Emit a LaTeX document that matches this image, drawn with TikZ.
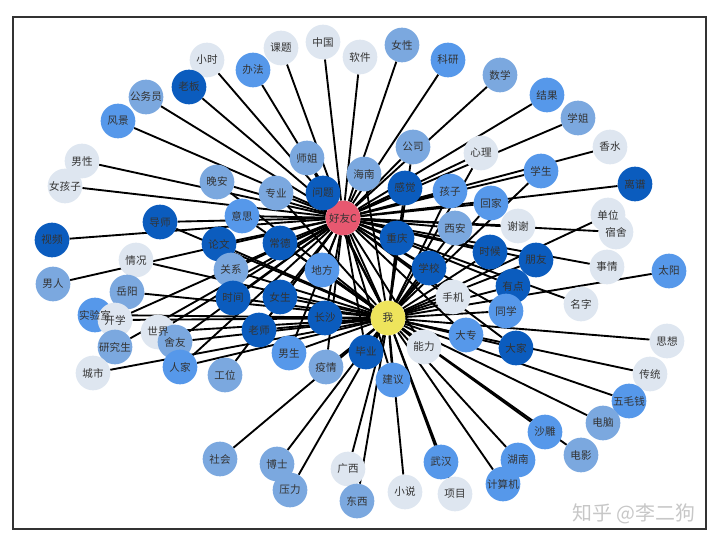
\documentclass[tikz,border=0pt]{standalone}
\usepackage{fontspec}
\setmainfont{Noto Sans CJK SC}
\usetikzlibrary{backgrounds}
\definecolor{wgray}{RGB}{222,230,240}
\definecolor{wlight}{RGB}{123,168,223}
\definecolor{wmid}{RGB}{86,152,234}
\definecolor{wdark}{RGB}{11,92,190}
\definecolor{hubred}{RGB}{232,88,112}
\definecolor{hubyel}{RGB}{238,228,92}
\tikzset{
  word/.style={circle, minimum size=1.04cm, inner sep=0pt, text=black!80,
    font=\fontsize{9}{10}\selectfont},
  g/.style={word, fill=wgray},
  l/.style={word, fill=wlight},
  m/.style={word, fill=wmid},
  d/.style={word, fill=wdark},
  wordtext/.style={inner sep=0pt, text=black!80, font=\fontsize{9}{10}\selectfont},
  edge/.style={line width=1.6pt, black}
}
\begin{document}
\begin{tikzpicture}[x=0.03cm, y=-0.03cm]
      \useasboundingbox (0,0) rectangle (720,544);
      \draw[line width=1.5pt, black!80] (13,17) rectangle (706,529);
      \draw
        (343,218) node[word, fill=hubred] (hy){好友C}
        (388,318) node[word, fill=hubyel] (wo){我}
        (207,60) node[g] (xiaoshi){小时}
        (281,48) node[g] (keti){课题}
        (323,42) node[g] (zhongguo){中国}
        (360,57) node[g] (ruanjian){软件}
        (402,45) node[l] (nvxing){女性}
        (448,60) node[m] (keyan){科研}
        (500,75) node[l] (shuxue){数学}
        (547,95) node[m] (jieguo){结果}
        (578,118) node[l] (xuejie){学姐}
        (610,147) node[g] (xiangshui){香水}
        (635,184) node[d] (lipu){离谱}
        (189,87) node[d] (laoban){老板}
        (253,70) node[m] (banfa){办法}
        (146,97) node[l] (gongwuyuan){公务员}
        (118,121) node[m] (fengjing){风景}
        (82,161) node[g] (nanxing){男性}
        (65,186) node[g] (nvhaizi){女孩子}
        (307,158) node[l] (shijie1){师姐}
        (364,174) node[l] (hainan){海南}
        (413,147) node[l] (gongsi){公司}
        (481,153) node[g] (xinli){心理}
        (541,171) node[m] (xuesheng){学生}
        (405,188) node[d] (ganjue){感觉}
        (450,191) node[m] (haizi){孩子}
        (491,203) node[m] (huijia){回家}
        (323,193) node[d] (wenti){问题}
        (276,193) node[l] (zhuanye){专业}
        (217,182) node[l] (wanan){晚安}
        (242,216) node[m] (yisi){意思}
        (160,222) node[d] (daoshi){导师}
        (52,240) node[d] (shipin){视频}
        (219,244) node[d] (lunwen){论文}
        (280,243) node[d] (changde){常德}
        (455,228) node[l] (xian){西安}
        (518,226) node[g] (xiexie){谢谢}
        (608,215) node[g] (danwei){}
        (616,232) node[g] (sushe){宿舍}
        (397,238) node[d] (chongqing){重庆}
        (136,260) node[g] (qingkuang){情况}
        (231,270) node[l] (guanxi){关系}
        (322,270) node[m] (difang){地方}
        (490,252) node[d] (shihou){时候}
        (536,260) node[d] (pengyou){朋友}
        (429,268) node[d] (xuexiao){学校}
        (607,267) node[g] (shiqing){事情}
        (669,271) node[m] (taiyang){太阳}
        (53,284) node[l] (nanren){男人}
        (127,292) node[l] (yueyang){岳阳}
        (233,298) node[d] (shijian){时间}
        (280,297) node[d] (nvsheng){女生}
        (513,286) node[d] (youdian){有点}
        (453,297) node[g] (shouji){手机}
        (581,304) node[g] (mingzi){名字}
        (95,315) node[m] (shiyanshi){}
        (115,320) node[g] (kaixue){开学}
        (158,332) node[g] (shijie4){}
        (175,342) node[l] (sheyou){舍友}
        (115,347) node[l] (yanjiusheng){研究生}
        (259,330) node[d] (laoshi){老师}
        (325,318) node[d] (changsha){长沙}
        (506,311) node[m] (tongxue){同学}
        (466,335) node[m] (dazhuan){大专}
        (516,348) node[d] (dajia){大家}
        (667,341) node[g] (sixiang){思想}
        (424,347) node[g] (nengli){能力}
        (366,352) node[d] (biye){毕业}
        (289,353) node[m] (nansheng){男生}
        (326,367) node[l] (yiqing){疫情}
        (180,367) node[m] (renjia){人家}
        (93,373) node[g] (chengshi){城市}
        (225,375) node[l] (gongwei){工位}
        (393,380) node[m] (jianyi){建议}
        (650,374) node[g] (chuantong){传统}
        (629,401) node[m] (wumaoqian){五毛钱}
        (603,423) node[l] (diannao){电脑}
        (545,432) node[m] (shadiao){沙雕}
        (581,455) node[l] (dianying){电影}
        (220,459) node[l] (shehui){社会}
        (277,464) node[l] (boshi){博士}
        (290,490) node[l] (yali){压力}
        (348,469) node[g] (guangxi){广西}
        (357,501) node[l] (dongxi){东西}
        (405,492) node[g] (xiaoshuo){小说}
        (441,462) node[m] (wuhan){武汉}
        (455,494) node[g] (xiangmu){项目}
        (518,460) node[m] (hunan){湖南}
        (503,484) node[m] (jisuanji){计算机};
      % words whose circle is half hidden keep their text on top
      \node[wordtext] (danweiT) at (danwei) {单位};
      \node[wordtext] (shiyanshiT) at (shiyanshi) {实验室};
      \node[wordtext] (shijie4T) at (shijie4) {世界};
      \node[text=black!22, font=\fontsize{17}{18}\selectfont] (zhihu) at (634,514) {知乎 @李二狗};
      % edges go under the words
      \begin{pgfonlayer}{background}
      \begin{scope}[edge]
        \draw (hy) to (wo);
        % only to 好友C
        \draw (hy) to (xiaoshi);
        \draw (hy) to (keti);
        \draw (hy) to (zhongguo);
        \draw (hy) to (ruanjian);
        \draw (hy) to (nvxing);
        \draw (hy) to (keyan);
        \draw (hy) to (shuxue);
        \draw (hy) to (jieguo);
        \draw (hy) to (xuejie);
        \draw (hy) to (xiangshui);
        \draw (hy) to (lipu);
        \draw (hy) to (laoban);
        \draw (hy) to (banfa);
        \draw (hy) to (gongwuyuan);
        \draw (hy) to (fengjing);
        \draw (hy) to (nanxing);
        \draw (hy) to (nvhaizi);
        \draw (hy) to (shipin);
        \draw (hy) to (nanren);
        \draw (hy) to (shiqing);
        \draw (hy) to (sushe);
        \draw (hy) to (mingzi);
        \draw (hy) to (xiexie);
        \draw (hy) to (gongwei);
        \draw (hy) to (yanjiusheng);
        % only to 我
        \draw (wo) to (shehui);
        \draw (wo) to (boshi);
        \draw (wo) to (yali);
        \draw (wo) to (guangxi);
        \draw (wo) to (dongxi);
        \draw (wo) to (xiaoshuo);
        \draw (wo) to (xiangmu);
        \draw (wo) to (wuhan);
        \draw (wo) to (hunan);
        \draw (wo) to (jisuanji);
        \draw (wo) to (shadiao);
        \draw (wo) to (dianying);
        \draw (wo) to (diannao);
        \draw (wo) to (wumaoqian);
        \draw (wo) to (chuantong);
        \draw (wo) to (sixiang);
        \draw (wo) to (taiyang);
        \draw (wo) to (danwei);
        \draw (wo) to (chengshi);
        \draw (wo) to (qingkuang);
        \draw (wo) to (yueyang);
        \draw (wo) to (shiyanshi);
        % to both
        \draw (hy) to (shijie1);
        \draw (wo) to (shijie1);
        \draw (hy) to (hainan);
        \draw (wo) to (hainan);
        \draw (hy) to (gongsi);
        \draw (wo) to (gongsi);
        \draw (hy) to (xinli);
        \draw (wo) to (xinli);
        \draw (hy) to (xuesheng);
        \draw (wo) to (xuesheng);
        \draw (hy) to (ganjue);
        \draw (wo) to (ganjue);
        \draw (hy) to (haizi);
        \draw (wo) to (haizi);
        \draw (hy) to (huijia);
        \draw (wo) to (huijia);
        \draw (hy) to (wenti);
        \draw (wo) to (wenti);
        \draw (hy) to (zhuanye);
        \draw (wo) to (zhuanye);
        \draw (hy) to (wanan);
        \draw (wo) to (wanan);
        \draw (hy) to (yisi);
        \draw (wo) to (yisi);
        \draw (hy) to (daoshi);
        \draw (wo) to (daoshi);
        \draw (hy) to (lunwen);
        \draw (wo) to (lunwen);
        \draw (hy) to (changde);
        \draw (wo) to (changde);
        \draw (hy) to (xian);
        \draw (wo) to (xian);
        \draw (hy) to (chongqing);
        \draw (wo) to (chongqing);
        \draw (hy) to (guanxi);
        \draw (wo) to (guanxi);
        \draw (hy) to (difang);
        \draw (wo) to (difang);
        \draw (hy) to (shihou);
        \draw (wo) to (shihou);
        \draw (hy) to (pengyou);
        \draw (wo) to (pengyou);
        \draw (hy) to (xuexiao);
        \draw (wo) to (xuexiao);
        \draw (hy) to (shijian);
        \draw (wo) to (shijian);
        \draw (hy) to (nvsheng);
        \draw (wo) to (nvsheng);
        \draw (hy) to (youdian);
        \draw (wo) to (youdian);
        \draw (hy) to (shouji);
        \draw (wo) to (shouji);
        \draw (hy) to (kaixue);
        \draw (wo) to (kaixue);
        \draw (hy) to (shijie4);
        \draw (wo) to (shijie4);
        \draw (hy) to (sheyou);
        \draw (wo) to (sheyou);
        \draw (hy) to (laoshi);
        \draw (wo) to (laoshi);
        \draw (hy) to (changsha);
        \draw (wo) to (changsha);
        \draw (hy) to (tongxue);
        \draw (wo) to (tongxue);
        \draw (hy) to (dazhuan);
        \draw (wo) to (dazhuan);
        \draw (hy) to (dajia);
        \draw (wo) to (dajia);
        \draw (hy) to (nengli);
        \draw (wo) to (nengli);
        \draw (hy) to (biye);
        \draw (wo) to (biye);
        \draw (hy) to (nansheng);
        \draw (wo) to (nansheng);
        \draw (hy) to (yiqing);
        \draw (wo) to (yiqing);
        \draw (hy) to (renjia);
        \draw (wo) to (renjia);
        \draw (hy) to (jianyi);
        \draw (wo) to (jianyi);
      \end{scope}
      \end{pgfonlayer}
    \end{tikzpicture}
\end{document}
